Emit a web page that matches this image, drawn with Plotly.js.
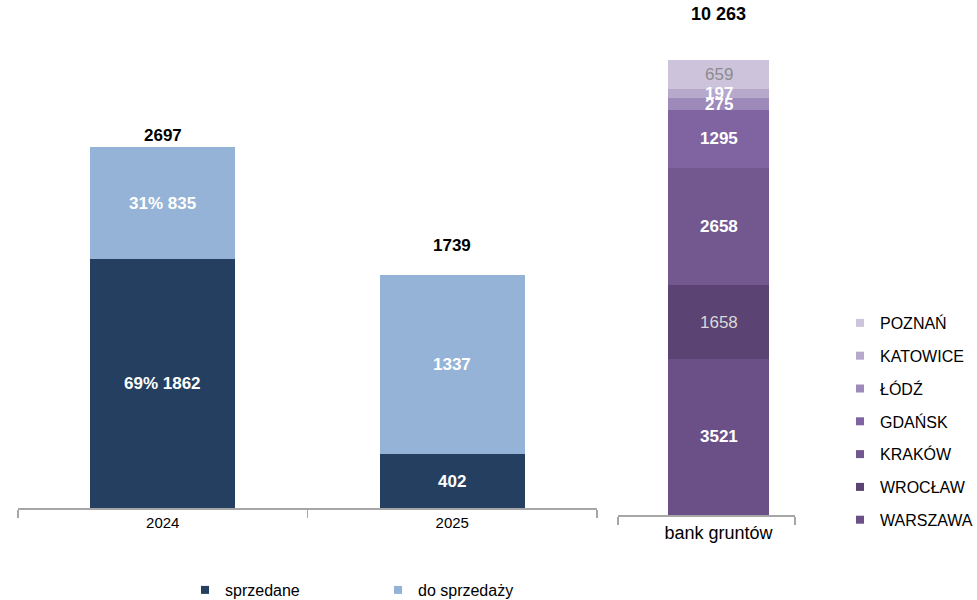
<!DOCTYPE html>
<html>
<head>
<meta charset="utf-8">
<script src="https://cdn.plot.ly/plotly-3.0.1.min.js"></script>
<style>html,body{margin:0;padding:0;background:#fff}#chart{width:977px;height:600px}</style>
</head>
<body>
<div id="chart"></div>
<script>
// ---- data ----
const years = ['2024', '2025'];
const sold = [1862, 402];
const forSale = [835, 1337];
const seriesNames = ['sprzedane', 'do sprzedaży'];
const landCategory = ['bank gruntów'];
const cities = ['WARSZAWA', 'WROCŁAW', 'KRAKÓW', 'GDAŃSK', 'ŁÓDŹ', 'KATOWICE', 'POZNAŃ'];
const landBank = [3521, 1658, 2658, 1295, 275, 197, 659];

// ---- styles ----
const FONT = 'Liberation Sans, Arial, sans-serif';
const soldColor = '#253F61';
const forSaleColor = '#95B3D7';
const cityColors = ['#6A5087', '#5B4373', '#73588F', '#8064A2', '#9D89BA', '#B6A9CC', '#CDC4DC'];
const cityLabelColors = ['#FFFFFF', '#D9D9D9', '#FFFFFF', '#FFFFFF', '#FFFFFF', '#FFFFFF', '#8C8C8C'];
const cityLabelBold = [true, false, true, true, true, true, false];
const showPct = [true, false];
const totalShift = [0, 18];
const landTotalShift = 34;
const landBarShiftPx = 12;       // bar drawn slightly right of its category centre
const landBarWidth = 0.576;
const landAxisPx = 177;

const totals = years.map((y, i) => sold[i] + forSale[i]);
const landTotal = landBank.reduce((a, b) => a + b, 0);
const fmtSpace = n => String(n).replace(/\B(?=(\d{3})+(?!\d))/g, ' ');
const landOffset = -landBarWidth / 2 + landBarShiftPx / landAxisPx;

const traces = [];
traces.push({
  type: 'bar', x: years, y: sold, name: seriesNames[0], width: 0.5,
  marker: {color: soldColor}, xaxis: 'x', yaxis: 'y', showlegend: false, hoverinfo: 'skip'
});
traces.push({
  type: 'bar', x: years, y: forSale, name: seriesNames[1], width: 0.5,
  marker: {color: forSaleColor}, xaxis: 'x', yaxis: 'y', showlegend: false, hoverinfo: 'skip'
});
// legend entries (bottom)
[soldColor, forSaleColor].forEach((c, i) => {
  traces.push({
    type: 'scatter', mode: 'markers', x: [null], y: [null], name: seriesNames[i],
    marker: {symbol: 'square', size: 8, color: c}, xaxis: 'x', yaxis: 'y',
    legend: 'legend', showlegend: true, hoverinfo: 'skip'
  });
});
cities.forEach((c, i) => {
  traces.push({
    type: 'bar', x: landCategory, y: [landBank[i]], name: c, width: landBarWidth, offset: landOffset,
    marker: {color: cityColors[i]}, xaxis: 'x2', yaxis: 'y2', showlegend: false, hoverinfo: 'skip'
  });
});
// legend entries (right), top of stack first
cities.map((c, i) => i).reverse().forEach(i => {
  traces.push({
    type: 'scatter', mode: 'markers', x: [null], y: [null], name: cities[i], legendgroup: cities[i],
    marker: {symbol: 'square', size: 8, color: cityColors[i]}, xaxis: 'x2', yaxis: 'y2',
    legend: 'legend2', showlegend: true, hoverinfo: 'skip'
  });
});

const annotations = [];
years.forEach((y, i) => {
  const t = totals[i];
  const s = showPct[i];
  const lab = (v) => (s ? Math.round(v / t * 100) + '% ' : '') + v;
  annotations.push({x: i, y: sold[i] / 2, xref: 'x', yref: 'y', text: '<b>' + lab(sold[i]) + '</b>',
    showarrow: false, font: {family: FONT, size: 17, color: '#FFFFFF'}});
  annotations.push({x: i, y: sold[i] + forSale[i] / 2, xref: 'x', yref: 'y', text: '<b>' + lab(forSale[i]) + '</b>',
    showarrow: false, font: {family: FONT, size: 17, color: '#FFFFFF'}});
  annotations.push({x: i, y: t, xref: 'x', yref: 'y', text: '<b>' + t + '</b>', yanchor: 'bottom', yshift: totalShift[i],
    showarrow: false, font: {family: FONT, size: 17, color: '#000000'}});
});
let cum = 0;
landBank.forEach((v, i) => {
  const mid = cum + v / 2;
  cum += v;
  annotations.push({x: 0, y: mid, xref: 'x2', yref: 'y2', xshift: landBarShiftPx,
    text: cityLabelBold[i] ? '<b>' + v + '</b>' : String(v),
    showarrow: false, font: {family: FONT, size: 17, color: cityLabelColors[i]}});
});
annotations.push({x: 0, y: landTotal, xref: 'x2', yref: 'y2', xshift: landBarShiftPx, text: '<b>' + fmtSpace(landTotal) + '</b>',
  yanchor: 'bottom', yshift: landTotalShift, showarrow: false, font: {family: FONT, size: 18, color: '#000000'}});

const axisCommon = {
  type: 'category', showgrid: false, zeroline: false, showline: true, linecolor: '#A6A6A6', linewidth: 2,
  ticks: 'outside', tickson: 'boundaries', ticklen: 8, tickwidth: 1.5, tickcolor: '#A6A6A6', fixedrange: true
};

const layout = {
  width: 977, height: 600,
  margin: {l: 0, r: 0, t: 0, b: 0, autoexpand: false},
  paper_bgcolor: '#FFFFFF', plot_bgcolor: 'rgba(0,0,0,0)',
  barmode: 'stack',
  font: {family: FONT, color: '#000000'},
  xaxis: Object.assign({}, axisCommon, {domain: [18 / 977, 597 / 977], range: [-0.5, 1.5], anchor: 'y',
    tickfont: {family: FONT, size: 15, color: '#000000'}}),
  yaxis: {domain: [1 - 508 / 600, 1], range: [0, 3799], visible: false, fixedrange: true},
  xaxis2: Object.assign({}, axisCommon, {domain: [618 / 977, 795 / 977], range: [-0.5, 0.5], anchor: 'y2',
    ticklabelshift: landBarShiftPx, tickfont: {family: FONT, size: 18, color: '#000000'}}),
  yaxis2: {domain: [1 - 515 / 600, 1], range: [0, 11617], visible: false, fixedrange: true},
  legend: {orientation: 'h', x: 185 / 977, xanchor: 'left', y: 1 - 590 / 600, yanchor: 'middle',
    traceorder: 'normal', entrywidth: 148, entrywidthmode: 'pixels', font: {family: FONT, size: 16, color: '#000000'},
    bgcolor: 'rgba(0,0,0,0)'},
  legend2: {orientation: 'v', x: 840 / 977, xanchor: 'left', y: 1 - 306 / 600, yanchor: 'top',
    traceorder: 'grouped', tracegroupgap: 9, font: {family: FONT, size: 16, color: '#000000'},
    bgcolor: 'rgba(0,0,0,0)'},
  annotations: annotations,
  showlegend: true
};

Plotly.newPlot('chart', traces, layout, {displayModeBar: false, staticPlot: true});
</script>
</body>
</html>
